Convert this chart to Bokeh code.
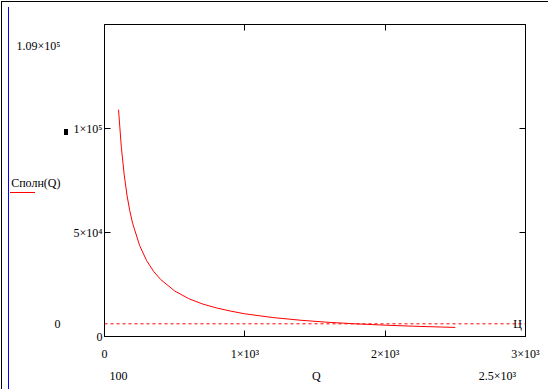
from bokeh.plotting import figure
from bokeh.models import Range1d, FixedTicker, LinearAxis, Label, Span
from bokeh.embed import file_html
from bokeh.resources import INLINE

# Data
Q = [100, 120, 140, 160, 180, 200, 250, 300, 350, 400, 500, 600, 700, 800,
     900, 1000, 1200, 1400, 1600, 1800, 2000, 2200, 2400, 2500]
C_poln = [109000, 91000, 78000, 68000, 60500, 54500, 43800, 36500, 31300, 27400,
          21900, 18200, 15600, 13700, 12200, 10900, 9100, 7800, 6800, 6050,
          5450, 4950, 4550, 4360]
price_level = 6100  # dashed marker line "Ц"

x_ticks = [0, 1000, 2000, 3000]
x_tick_labels = ["0", "1×10³", "2×10³", "3×10³"]
y_ticks = [0, 50000, 100000]
y_tick_labels = ["0", "5×10⁴", "1×10⁵"]

# Mathcad-style limit / name labels (outer rows)
x_limit_pos = [100, 1510, 2800]
x_limit_labels = ["100", "Q", "2.5×10³"]
y_limit_pos = [139900, 74000, price_level]
y_limit_labels = ["1.09×10⁵", "Сполн(Q)", "0"]

FONT = "Liberation Serif"

p = figure(width=548, height=389, output_backend="svg", toolbar_location=None,
           x_range=Range1d(0, 3000), y_range=Range1d(0, 150000),
           min_border_left=104, min_border_right=23, min_border_top=24,
           min_border_bottom=53)
p.grid.visible = False
p.outline_line_color = "black"
p.outline_line_width = 1
p.background_fill_color = "white"
p.border_fill_color = None
p.styles = {
    "background": (
        "linear-gradient(#000,#000) 1px 1px / 1px 388px no-repeat,"
        "linear-gradient(#000,#000) 1px 1px / 547px 1px no-repeat,"
        "linear-gradient(#00f,#00f) 8px 7px / 1px 382px no-repeat,"
        "linear-gradient(#f00,#f00) 10px 192px / 25px 1px no-repeat,"
        "linear-gradient(#000,#000) 64px 129px / 4px 6px no-repeat,"
        "#fff"
    )
}


def style_axis(ax):
    ax.major_tick_in = 6
    ax.major_tick_out = 0
    ax.minor_tick_in = 0
    ax.minor_tick_out = 0
    ax.axis_line_color = "black"
    ax.major_tick_line_color = "black"
    ax.major_label_text_font = FONT
    ax.major_label_text_font_size = "12px"
    ax.major_label_text_color = "black"


style_axis(p.xaxis[0])
style_axis(p.yaxis[0])

p.xaxis[0].ticker = FixedTicker(ticks=x_ticks)
p.xaxis[0].major_label_overrides = dict(zip(x_ticks, x_tick_labels))
p.xaxis[0].major_label_standoff = 10

p.yaxis[0].ticker = FixedTicker(ticks=y_ticks)
p.yaxis[0].major_label_overrides = dict(zip(y_ticks, y_tick_labels))
p.yaxis[0].major_label_standoff = 2

# inward ticks on top and right frame edges (no labels)
top = LinearAxis(ticker=FixedTicker(ticks=[1000, 2000]))
style_axis(top)
top.major_label_overrides = {1000: "", 2000: ""}
top.major_label_text_color = None
right = LinearAxis(ticker=FixedTicker(ticks=[50000, 100000]))
style_axis(right)
right.major_label_overrides = {50000: "", 100000: ""}
right.major_label_text_color = None
p.add_layout(top, "above")
p.add_layout(right, "right")

# outer rows of labels (limits and names)
xb = LinearAxis(ticker=FixedTicker(ticks=x_limit_pos))
style_axis(xb)
xb.axis_line_color = None
xb.major_tick_line_color = None
xb.major_label_overrides = dict(zip(x_limit_pos, x_limit_labels))
xb.major_label_standoff = 5
p.add_layout(xb, "below")

yl = LinearAxis(ticker=FixedTicker(ticks=y_limit_pos))
style_axis(yl)
yl.axis_line_color = None
yl.major_tick_line_color = None
yl.major_label_overrides = dict(zip(y_limit_pos, y_limit_labels))
yl.major_label_standoff = 10
p.add_layout(yl, "left")

p.line(Q, C_poln, line_color="red", line_width=1)
p.add_layout(Span(location=price_level, dimension="width", line_color="red",
                  line_dash="3 3", line_width=1))
p.add_layout(Label(x=2943, y=price_level, text="Ц", text_font=FONT,
                   text_font_size="12px", text_color="black",
                   text_align="center", text_baseline="middle"))

open("out.html", "w").write(file_html(p, INLINE))
